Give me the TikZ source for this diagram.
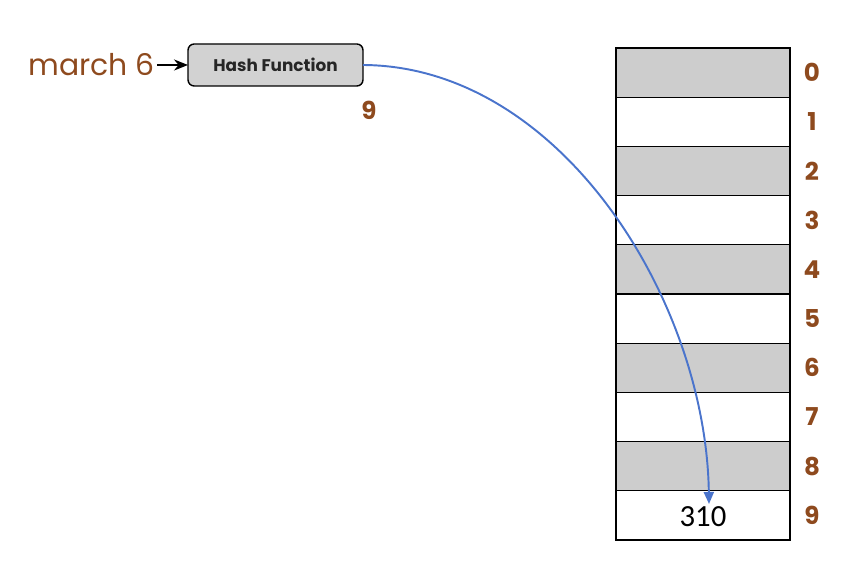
\documentclass[tikz,border=0pt]{standalone}
\usepackage{fontspec}
\setmainfont{Poppins}
\newfontfamily\calfont{Carlito}
\usepackage{xcolor}
\usetikzlibrary{arrows.meta,positioning}
\definecolor{Rust}{HTML}{8E4A1E}
\definecolor{Slot}{HTML}{CDCDCD}
\definecolor{Keybox}{HTML}{D2D2D2}
\definecolor{Link}{HTML}{4A74CC}
\tikzset{
  key/.style={font=\fontsize{17}{20}\selectfont,text=Rust,inner sep=1pt},
  hashbox/.style={draw=black,fill=Keybox,rounded corners=3.5pt,line width=0.8pt,minimum width=3.5cm,minimum height=0.84cm,font=\fontsize{9.6}{11}\selectfont\bfseries,text=black!85,outer sep=0pt},
  slot/.style={draw=black,line width=0.7pt,minimum width=3.48cm,minimum height=0.984cm,outer sep=0pt,inner sep=0pt},
  idx/.style={font=\fontsize{14}{16}\selectfont\bfseries,text=Rust},
  arr/.style={-{Stealth[length=2.8mm,width=2.2mm]},draw=black,line width=1pt},
  link/.style={-{Triangle[length=2.4mm,width=2mm]},draw=Link,line width=1.1pt}
}
\begin{document}
\begin{tikzpicture}[x=0.02cm,y=-0.02cm]
  \useasboundingbox[fill=white] (0,0) rectangle (861,580);
  \node[key,anchor=east] (m) at (157,65) {march 6};
  \node[hashbox] (hash) at (275.5,65) {Hash Function};
  \node[idx] (h9) at (369,110) {9};
  \foreach \i in {0,...,9}{
    \pgfmathsetmacro{\cy}{72.6+49.2*\i}
    \ifodd\i
      \node[slot,fill=white] (r\i) at (703,\cy) {};
    \else
      \node[slot,fill=Slot] (r\i) at (703,\cy) {};
    \fi
    \node[idx] (l\i) at (812,\cy) {\i};
  }
  \node[font=\calfont\fontsize{17.5}{20}\selectfont] (v) at (703,517) {310};
  \coordinate (hit) at (709,504);
  \draw[arr] (m) -- (hash);
  \draw[link] (hash.east) .. controls (560,66) and (706,300) .. (hit);
\end{tikzpicture}
\end{document}
